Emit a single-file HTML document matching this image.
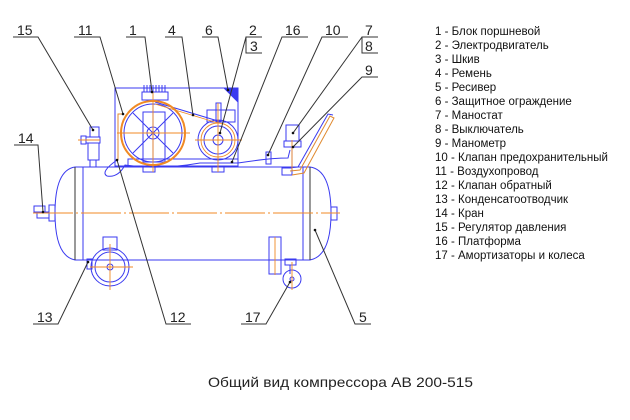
<!DOCTYPE html>
<html><head><meta charset="utf-8"><style>
html,body{margin:0;padding:0;background:#fff;}
svg{display:block;}
.n{font-family:"Liberation Sans",sans-serif;font-size:14px;fill:#222;}
.lg{font-family:"Liberation Sans",sans-serif;font-size:11.5px;fill:#111;}
.cap{font-family:"Liberation Sans",sans-serif;font-size:14px;fill:#222;}
</style></head><body>
<svg width="630" height="420" viewBox="0 0 630 420" xmlns="http://www.w3.org/2000/svg">
<g fill="none" stroke="#3a3af0" stroke-width="1">
 <path d="M75,167 L310,167 Q331,170 331,213 Q331,256 310,260 L75,260 Q55,256 55,213 Q55,170 75,167 Z"/>
 <line x1="75" y1="167" x2="75" y2="260" stroke="#333"/>
 <line x1="83" y1="167" x2="83" y2="260"/>
 <line x1="303" y1="167" x2="303" y2="260"/>
 <line x1="310" y1="167" x2="310" y2="260" stroke="#333"/>
 <rect x="115" y="88" width="123" height="78"/>
 <rect x="128" y="159" width="110" height="7"/>
 <rect x="143" y="166" width="12" height="6"/>
 <rect x="212" y="166" width="12" height="6"/>
 <rect x="142" y="92" width="26" height="8"/>
 <path d="M144,92 V85 M147,92 V85 M150,92 V85 M153,92 V85 M156,92 V85 M159,92 V85 M162,92 V85 M165,92 V85"/>
 <circle cx="153" cy="133" r="29"/>
 <circle cx="153" cy="133" r="6"/>
 <path d="M153,104 V162 M124,133 H182 M133,113 L173,153 M173,113 L133,153"/>
 <rect x="143" y="112" width="22" height="50"/>
 <circle cx="218" cy="140" r="20"/>
 <circle cx="218" cy="140" r="14"/>
 <circle cx="218" cy="140" r="5"/>
 <rect x="207" y="110" width="28" height="12"/>
 <rect x="216" y="103" width="5" height="18"/>
 <line x1="155" y1="102" x2="218" y2="121"/>
 <path d="M225,89 L238,89 L238,102 Z" fill="#3a3af0"/>
 <path d="M123,114 L118,114 L118,160" stroke="#e08a30"/>
 <path d="M117,160 Q100,172 107,176 Q118,178 125,165 Q160,170 200,163 L238,163 Q270,158 288,158 L290,150"/>
 <rect x="266" y="152" width="5" height="12"/>
 <rect x="286" y="125" width="13" height="16"/>
 <rect x="284" y="141" width="17" height="6"/>
 <line x1="292" y1="147" x2="292" y2="168"/>
 <rect x="282" y="168" width="10" height="7"/>
 <path d="M290,171 L300,170 L330,116 L334,118 L304,173 L292,175" stroke="#e08a30"/>
 <path d="M288,168 L298,167 L328,114 L333,115"/>
 <rect x="90" y="127" width="9" height="10"/>
 <rect x="86" y="137" width="14" height="6"/>
 <rect x="88" y="143" width="11" height="17"/>
 <rect x="90" y="160" width="6" height="7"/>
 <rect x="81" y="136" width="5" height="8"/>
 <rect x="34" y="206" width="11" height="6"/>
 <rect x="37" y="212" width="12" height="6"/>
 <rect x="49" y="205" width="6" height="16"/>
 <rect x="331" y="207" width="6" height="13"/>
 <circle cx="110" cy="267" r="19"/>
 <circle cx="110" cy="267" r="15"/>
 <circle cx="110" cy="267" r="3"/>
 <rect x="103" y="237" width="14" height="13"/>
 <rect x="87" y="259" width="5" height="10"/>
 <rect x="269" y="237" width="12" height="37"/>
 <rect x="285" y="259" width="11" height="6"/>
 <line x1="290" y1="265" x2="290" y2="274"/>
 <circle cx="292" cy="279" r="9"/>
 <circle cx="292" cy="279" r="2"/>
</g>
<g stroke="#f08a24" stroke-width="0.9" fill="none">
 <line x1="33" y1="213" x2="340" y2="213" stroke-dasharray="40,3,2,3"/>
 <circle cx="153" cy="133" r="32" stroke-width="2"/>
 <line x1="117" y1="133" x2="190" y2="133"/>
 <line x1="153" y1="92" x2="153" y2="172"/>
 <line x1="195" y1="140" x2="242" y2="140"/>
 <line x1="218" y1="103" x2="218" y2="172"/>
 <line x1="110" y1="244" x2="110" y2="290"/>
 <line x1="90" y1="267" x2="133" y2="267"/>
 <line x1="275" y1="237" x2="275" y2="275"/>
 <line x1="292" y1="262" x2="292" y2="290"/>
 <line x1="78" y1="140" x2="100" y2="140"/>
 <line x1="292" y1="140" x2="292" y2="170"/>
 <line x1="155" y1="104" x2="218" y2="123"/>
 <circle cx="218" cy="140" r="17"/>
</g>
<g stroke="#333" stroke-width="1" fill="none">
 <path d="M13,37 H38 L93,130"/>
 <path d="M74,37 H100 L123,114"/>
 <path d="M126,37 H145 L152,92"/>
 <path d="M165,37 H182 L193,115"/>
 <path d="M202,37 H218 L228,90"/>
 <path d="M262,37 H246 V53 H262 M246,37 L220,133"/>
 <path d="M308,37 H282 L232,162"/>
 <path d="M348,37 H322 L268,155"/>
 <path d="M378,37 H362 V53 H378 M362,37 L293,133"/>
 <path d="M378,77 H362 L293,147"/>
 <path d="M14,145 H38 L43,212"/>
 <path d="M33,324 H58 L88,262"/>
 <path d="M191,324 H166 L117,160"/>
 <path d="M241,324 H266 L290,282"/>
 <path d="M371,324 H355 L315,230"/>
</g>
<g fill="#111">
 <circle cx="93" cy="130" r="1.3"/><circle cx="123" cy="114" r="1.3"/><circle cx="152" cy="92" r="1.3"/>
 <circle cx="193" cy="115" r="1.3"/><circle cx="228" cy="90" r="1.3"/><circle cx="220" cy="133" r="1.3"/>
 <circle cx="232" cy="162" r="1.3"/><circle cx="268" cy="155" r="1.3"/><circle cx="293" cy="133" r="1.3"/>
 <circle cx="293" cy="147" r="1.3"/><circle cx="43" cy="212" r="1.3"/><circle cx="88" cy="262" r="1.3"/>
 <circle cx="117" cy="160" r="1.3"/><circle cx="290" cy="282" r="1.3"/><circle cx="315" cy="230" r="1.3"/>
</g>
<g class="n">
 <text x="17" y="35">15</text><text x="78" y="35">11</text><text x="129" y="35">1</text>
 <text x="168" y="35">4</text><text x="205" y="35">6</text><text x="249" y="35">2</text>
 <text x="250" y="51">3</text><text x="285" y="35">16</text><text x="325" y="35">10</text>
 <text x="365" y="35">7</text><text x="365" y="51">8</text><text x="365" y="75">9</text>
 <text x="18" y="143">14</text><text x="37" y="322">13</text><text x="170" y="322">12</text>
 <text x="245" y="322">17</text><text x="359" y="322">5</text>
</g>
<g class="lg">
 <text x="435" y="35">1 - Блок поршневой</text>
 <text x="435" y="49">2 - Электродвигатель</text>
 <text x="435" y="63">3 - Шкив</text>
 <text x="435" y="77">4 - Ремень</text>
 <text x="435" y="91">5 - Ресивер</text>
 <text x="435" y="105">6 - Защитное ограждение</text>
 <text x="435" y="119">7 - Маностат</text>
 <text x="435" y="133">8 - Выключатель</text>
 <text x="435" y="147">9 - Манометр</text>
 <text x="435" y="161">10 - Клапан предохранительный</text>
 <text x="435" y="175">11 - Воздухопровод</text>
 <text x="435" y="189">12 - Клапан обратный</text>
 <text x="435" y="203">13 - Конденсатоотводчик</text>
 <text x="435" y="217">14 - Кран</text>
 <text x="435" y="231">15 - Регулятор давления</text>
 <text x="435" y="245">16 - Платформа</text>
 <text x="435" y="259">17 - Амортизаторы и колеса</text>
</g>
<text class="cap" x="208" y="387" textLength="265" lengthAdjust="spacingAndGlyphs">Общий вид компрессора АВ 200-515</text>
</svg>
</body></html>
